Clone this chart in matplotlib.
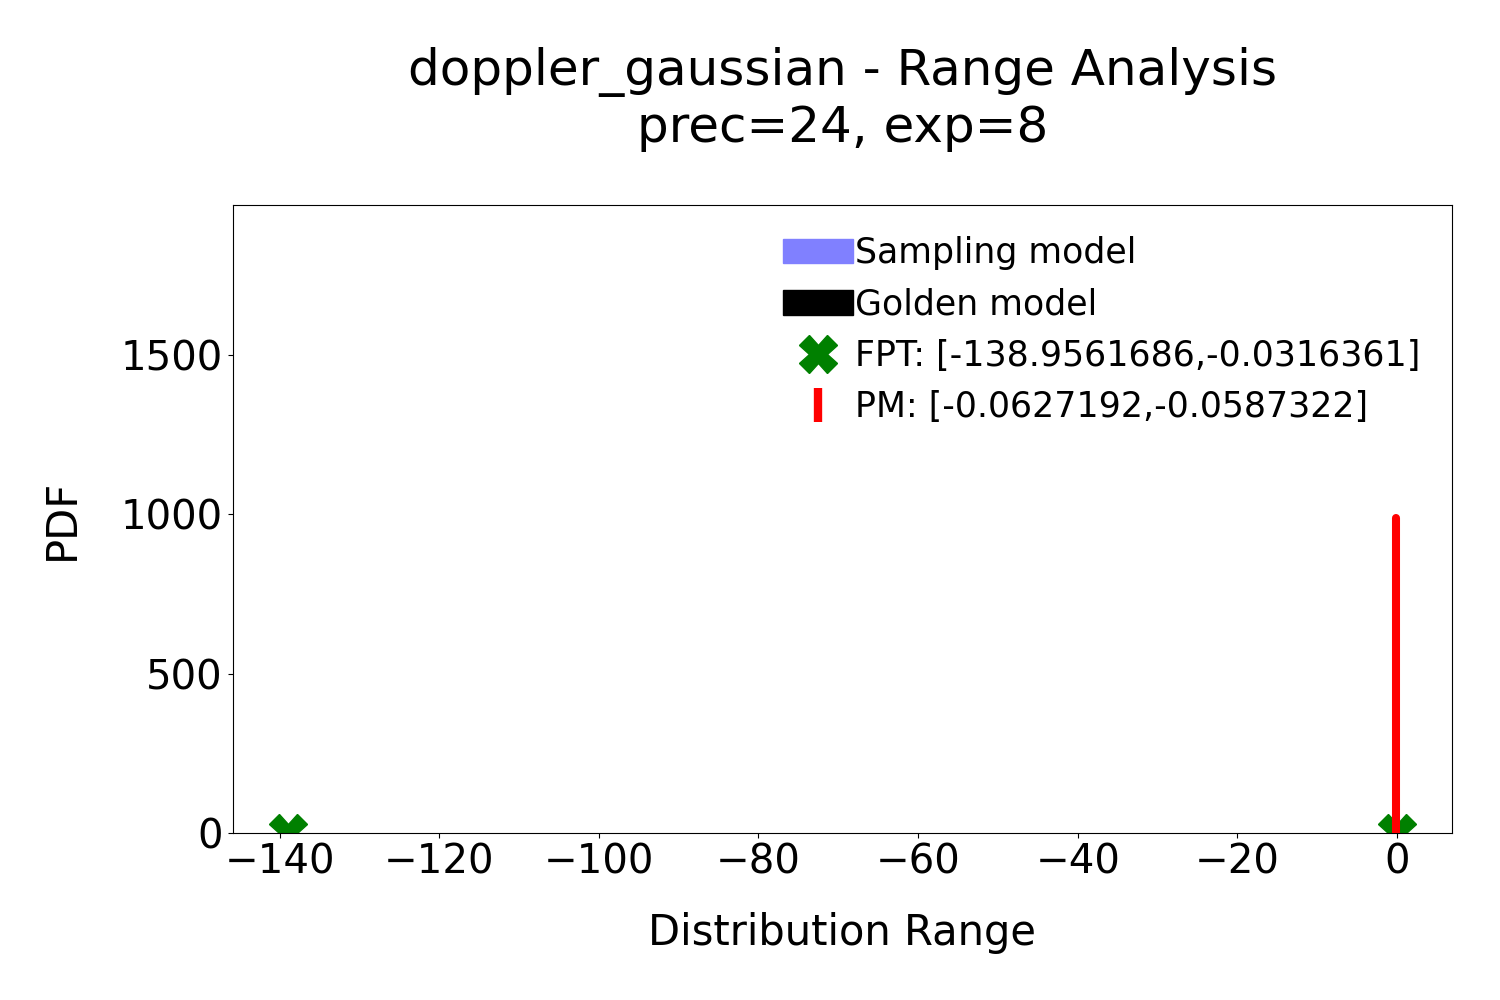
import matplotlib
matplotlib.use("Agg")
import matplotlib.pyplot as plt
from matplotlib.patches import Patch
from matplotlib.lines import Line2D

title = "doppler_gaussian - Range Analysis\nprec=24, exp=8"
fpt_range = [-138.9561686, -0.0316361]
pm_range = [-0.0627192, -0.0587322]
fpt_y = [0, 0]
pm_pdf_height = 988
xlim = (-145.9, 6.9)
ylim = (0, 1970)

fig = plt.figure(figsize=(15, 10), dpi=100)
ax = fig.add_axes([0.155, 0.167, 0.813, 0.628])

pm_mid = (pm_range[0] + pm_range[1]) / 2
ax.plot([pm_mid, pm_mid], [0, pm_pdf_height], color="red", linewidth=5.8,
        solid_capstyle="round", zorder=3)
ax.plot(fpt_range, fpt_y, linestyle="none", marker="X", markersize=27,
        color="green", zorder=2)

ax.set_xlim(*xlim)
ax.set_ylim(*ylim)
ax.set_yticks([0, 500, 1000, 1500])
ax.tick_params(labelsize=29)
ax.set_xlabel("Distribution Range", fontsize=30, labelpad=21)
ax.set_ylabel("PDF", fontsize=30, labelpad=27)
ax.set_title(title, fontsize=36, pad=45)

handles = [
    Patch(facecolor="#8080ff", edgecolor="#8080ff", label="Sampling model"),
    Patch(facecolor="black", edgecolor="black", label="Golden model"),
    Line2D([], [], linestyle="none", marker="X", markersize=27, color="green",
           label=f"FPT: [{fpt_range[0]:.7f},{fpt_range[1]:.7f}]"),
    Line2D([], [], linestyle="none", marker="|", markersize=24, markeredgewidth=6,
           color="red", label=f"PM: [{pm_range[0]:.7f},{pm_range[1]:.7f}]"),
]
ax.legend(handles=handles, loc="upper right", frameon=False, fontsize=25,
          handlelength=2.0, handletextpad=0.08)

fig.savefig("out.png", dpi=100)
